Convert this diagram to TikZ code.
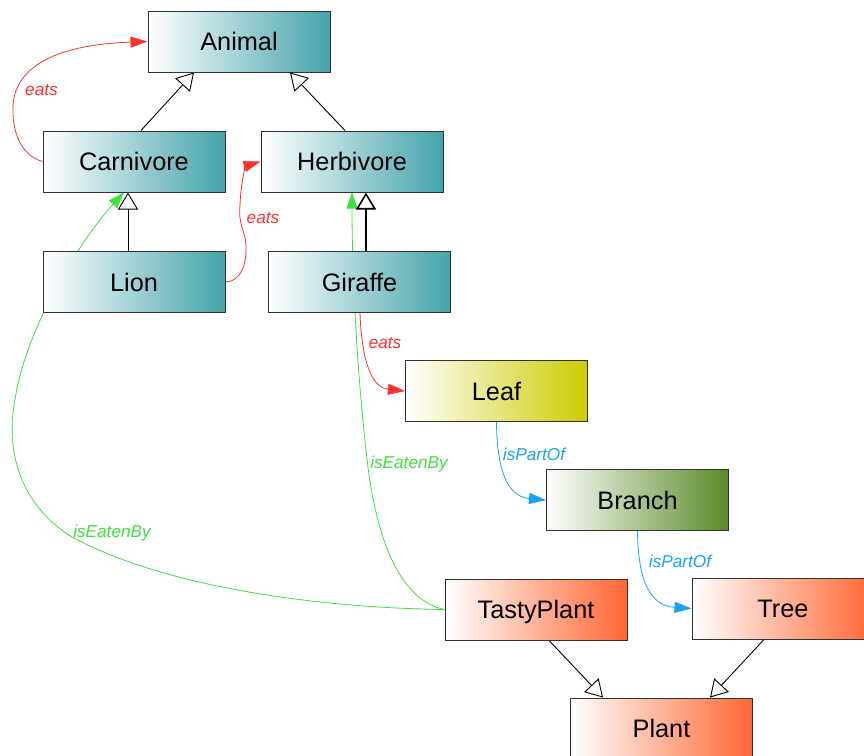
\documentclass[tikz,border=0pt]{standalone}
\usepackage{fontspec}
\setmainfont{Liberation Sans}
\usetikzlibrary{arrows.meta,backgrounds,calc}

\definecolor{tealend}{HTML}{44A3AB}
\definecolor{leafend}{HTML}{CCCC00}
\definecolor{branchend}{HTML}{5A8A28}
\definecolor{plantend}{HTML}{FF6633}
\definecolor{eatsred}{HTML}{FF3030}
\definecolor{partblue}{HTML}{1AA0FF}
\definecolor{eatengreen}{HTML}{40E040}

\tikzset{
  cls/.style={draw=black!80, line width=1pt, minimum width=182pt,
    minimum height=61pt, inner sep=0pt, text height=18.5pt, text depth=0pt,
    font=\fontsize{25.3}{29}\selectfont, left color=white},
  animalbox/.style={cls, right color=tealend},
  leafbox/.style={cls, right color=leafend},
  branchbox/.style={cls, right color=branchend},
  plantbox/.style={cls, right color=plantend},
  isa/.style={draw=black, line width=0.9pt,
    -{Triangle[length=17pt, width=20pt, fill=white]}},
  eatsedge/.style={draw=eatsred, line width=0.8pt,
    -{Triangle[length=17pt, width=11pt]}},
  partedge/.style={draw=partblue, line width=0.8pt,
    -{Triangle[length=17pt, width=11pt]}},
  eatenedge/.style={draw=eatengreen, line width=0.8pt,
    -{Triangle[length=16pt, width=11pt]}},
  lbl/.style={font=\fontsize{17.2}{20}\selectfont\itshape, anchor=base,
    inner sep=0pt},
}

\begin{document}
\begin{tikzpicture}[x=1pt, y=-1pt]
  \useasboundingbox (0,0) rectangle (864,755);
  \clip (0,0) rectangle (864,755);

  % classes
  \node[animalbox] (animal)     at (239,41.5)   {Animal};
  \node[animalbox] (carnivore)  at (134,161.5)  {Carnivore};
  \node[animalbox] (herbivore)  at (352,161.5)  {Herbivore};
  \node[animalbox] (lion)       at (134,282)    {Lion};
  \node[animalbox] (giraffe)    at (359.5,282)  {Giraffe};
  \node[leafbox]   (leaf)       at (496.5,391)  {Leaf};
  \node[branchbox] (branch)     at (637.5,500)  {Branch};
  \node[plantbox]  (tastyplant) at (536,609.5)  {TastyPlant};
  \node[plantbox]  (tree)       at (783,608.5)  {Tree};
  \node[plantbox]  (plant)      at (661.5,728.5) {Plant};

  % relation labels
  \node[lbl, text=eatsred]    (eatsA)   at (41.5,95)  {eats};
  \node[lbl, text=eatsred]    (eatsB)   at (263,223)  {eats};
  \node[lbl, text=eatsred]    (eatsC)   at (385,348)  {eats};
  \node[lbl, text=partblue]   (partA)   at (534,460)  {isPartOf};
  \node[lbl, text=partblue]   (partB)   at (680,567)  {isPartOf};
  \node[lbl, text=eatengreen] (eatenA)  at (112,537)  {isEatenBy};
  \node[lbl, text=eatengreen] (eatenB)  at (409,468)  {isEatenBy};

  \begin{scope}[on background layer]
    \fill[white] (0,0) rectangle (864,755);

    % isEatenBy
    \draw[eatenedge] (tastyplant.west) .. controls (330,608) and (170,590) .. (72,537)
      .. controls (20,505) and (5,450) .. (15,400)
      .. controls (25,330) and (80,240) .. ($(carnivore.south)+(-10,0)$);
    \draw[eatenedge] (tastyplant.west) .. controls (400,600) and (375,540) .. (366,450)
      .. controls (358,380) and (352,280) .. (herbivore.south);

    % eats
    \draw[eatsedge] (carnivore.west) .. controls (20,155) and (12,130) .. (13,107)
      .. controls (14,70) and (50,45) .. (animal.west);
    \draw[eatsedge] (lion.east) .. controls (240,282) and (247,265) .. (246,245)
      .. controls (245,230) and (238,225) .. (240,205)
      .. controls (241,180) and (246,166) .. (herbivore.west);
    \draw[eatsedge] ($(giraffe.south)+(0.5,0)$) .. controls (362,370) and (375,388) .. (leaf.west);

    % isPartOf
    \draw[partedge] (leaf.south) .. controls (497,480) and (512,497) .. (branch.west);
    \draw[partedge] (branch.south) .. controls (638,590) and (655,606) .. (tree.west);

    % subclass links
    \draw[isa] ($(carnivore.north)+(7,0)$) -- ($(animal.south)+(-45,0)$);
    \draw[isa] ($(herbivore.north)+(-7,0)$) -- ($(animal.south)+(51,0)$);
    \draw[isa] ($(lion.north)+(-6,0)$) -- ($(carnivore.south)+(-6,0)$);
    \draw[isa, line width=1.6pt] ($(giraffe.north)+(6.5,0)$) -- ($(herbivore.south)+(14,0)$);
    \draw[isa] ($(tastyplant.south)+(13,0)$) -- ($(plant.north)+(-58.5,0)$);
    \draw[isa] ($(tree.south)+(-19,0)$) -- ($(plant.north)+(48.5,0)$);
  \end{scope}
\end{tikzpicture}
\end{document}
